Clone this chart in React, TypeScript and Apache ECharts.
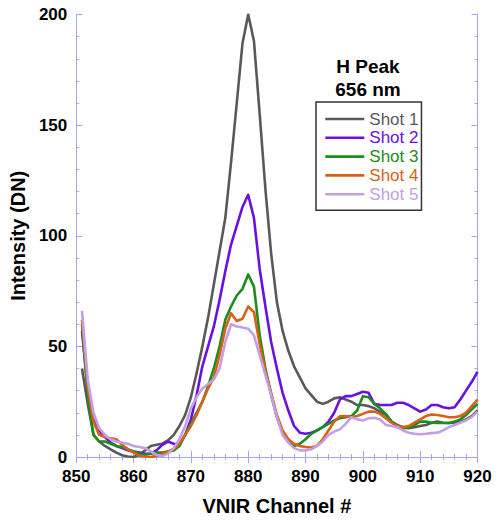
import React, { useEffect, useRef } from "react";
import * as echarts from "echarts";

const channels: number[] = [];
for (let c = 851; c <= 920; c++) channels.push(c);

const seriesNames = ["Shot 1", "Shot 2", "Shot 3", "Shot 4", "Shot 5"];
const seriesColors = ["#595959", "#6a10e0", "#1c8c1c", "#d6621a", "#c49ee6"];

const shot1 = [40, 24, 10, 7, 5, 3.5, 2, 0.8, 0.2, 0, 1, 3, 5, 5.5, 6, 7.5, 10, 14, 19, 27,
  38, 50, 63, 78, 93, 108, 133, 160, 187, 200, 188, 155, 121, 92, 70, 57, 48, 41, 36, 31,
  28, 25, 24, 25, 26.5, 27, 26, 25, 23.5, 23.5, 23, 22, 20.5, 19, 16, 14.5, 13.5, 13, 13.5, 14,
  14.5, 15.5, 16, 15.5, 15.4, 15.5, 16, 17, 18.5, 21];
const shot2 = [57, 30, 17, 12, 9, 6.5, 5, 4, 3, 2.5, 2, 1.5, 1.5, 3, 5.5, 7, 6, 5.5, 10, 17,
  28, 41, 50, 59, 71, 84, 96, 104.5, 113, 118.5, 108, 85, 68, 52, 40, 29, 21, 14, 11, 10.5,
  11, 12, 13.5, 16, 20, 26, 27.5, 27.5, 28.5, 29.5, 29, 24, 23.5, 23.5, 23.5, 24.5, 24.5, 23.5, 22, 20.5,
  21.5, 23.5, 23.5, 22.5, 22, 22.5, 26, 30, 34, 38.5];
const shot3 = [60, 28, 10, 7, 7, 6, 5, 4.5, 3.5, 2.5, 1.5, 1, 1.5, 2, 2, 2.5, 3, 5, 10, 15,
  20, 25, 32, 40, 50, 62, 68, 73, 76, 82.5, 77, 55, 40, 28, 18, 11, 7, 5, 6, 8,
  10.5, 12, 13.5, 15, 16.5, 17.5, 18, 18.5, 21, 27.5, 27, 24, 22, 19.5, 16, 13.5, 13, 13.2, 14.5, 16,
  16, 15.5, 15.4, 15.4, 15.4, 16, 17, 19, 21.5, 24];
const shot4 = [62, 32, 16, 10, 9, 8.5, 8, 5.5, 3.5, 2, 0.6, 0.2, 0, 0.5, 1.3, 2.5, 3.6, 6, 10, 14,
  19, 25, 31, 36, 46, 58, 65, 61.5, 62.5, 68, 65.5, 51, 39, 29, 19, 12, 8, 6, 5, 4.5,
  4.3, 5, 8, 12, 16, 18.4, 18.5, 18, 18.5, 19.5, 20.5, 20.5, 19.5, 17.5, 15.5, 14, 13.5, 14, 15.5, 17,
  18.5, 19.2, 19, 18.5, 18, 18, 18.5, 20, 23, 26];
const shot5 = [66, 35, 20, 13, 10, 8, 7, 6.5, 6, 5, 4.5, 4, 2.5, 1, 0.3, 1.5, 4, 8, 14, 22,
  27, 31, 33, 35, 40, 52, 60, 59, 58.5, 58, 55, 46, 37, 28, 18, 10, 6.5, 4, 3, 3,
  3.5, 5, 7, 10, 11.5, 12.5, 15, 18, 17, 16.5, 17.5, 17.7, 17, 14.5, 14, 13.5, 12, 11, 10.5, 10.3,
  10.5, 10.8, 11, 12, 13.5, 14.5, 15.5, 16.5, 18, 20.5];

const allShots = [shot1, shot2, shot3, shot4, shot5];

const xTicks = { min: 850, max: 920, interval: 10 };
const yTicks = { min: 0, max: 200, interval: 50 };

const FONT = "Liberation Sans, Arial, sans-serif";
const AXIS_COLOR = "#a4a4ff";

export default function App() {
  const ref = useRef<HTMLDivElement>(null);
  useEffect(() => {
    if (!ref.current) return;
    const chart = echarts.init(ref.current, null, { renderer: "svg" });
    const axisCommon = {
      axisLine: { show: true, lineStyle: { color: AXIS_COLOR, width: 1 } },
      axisTick: { show: true, inside: true, length: 6, lineStyle: { color: AXIS_COLOR } },
      minorTick: { show: true, splitNumber: 5, length: 3, lineStyle: { color: AXIS_COLOR } },
      splitLine: { show: false },
    };
    chart.setOption({
      animation: false,
      backgroundColor: "#ffffff",
      grid: { left: 71.5, right: 22.5, top: 14.5, bottom: 58, containLabel: false },
      xAxis: [
        {
          type: "value",
          ...xTicks,
          position: "bottom",
          ...axisCommon,
          axisLabel: { margin: 11, color: "#000", fontSize: 17, fontWeight: "bold", fontFamily: FONT },
          name: "VNIR Channel #",
          nameLocation: "middle",
          nameGap: 39,
          nameTextStyle: { color: "#000", fontSize: 20, fontWeight: "bold", fontFamily: FONT },
        },
        {
          type: "value",
          ...xTicks,
          position: "top",
          ...axisCommon,
          axisLabel: { show: false },
        },
      ],
      yAxis: [
        {
          type: "value",
          ...yTicks,
          position: "left",
          ...axisCommon,
          axisLabel: { margin: 9, color: "#000", fontSize: 17, fontWeight: "bold", fontFamily: FONT },
          name: "Intensity (DN)",
          nameLocation: "middle",
          nameGap: 40,
          nameTextStyle: { color: "#000", fontSize: 20, fontWeight: "bold", fontFamily: FONT },
        },
        {
          type: "value",
          ...yTicks,
          position: "right",
          ...axisCommon,
          axisLabel: { show: false },
        },
      ],
      legend: {
        orient: "vertical",
        left: 316,
        top: 102,
        padding: [8, 3, 7, 8],
        itemWidth: 39,
        itemHeight: 14,
        itemGap: 0.8,
        borderColor: "#333333",
        borderWidth: 1.5,
        borderRadius: 0,
        backgroundColor: "#ffffff",
        itemStyle: { opacity: 0 },
        lineStyle: { width: 2.6 },
        textStyle: { fontSize: 17, fontFamily: FONT, lineHeight: 18 },
        data: seriesNames.map((n, i) => ({ name: n, textStyle: { color: seriesColors[i] } })),
      },
      graphic: [
        {
          type: "text",
          x: 368,
          y: 54.5,
          style: {
            text: "H Peak\n656 nm",
            textAlign: "center",
            fill: "#000",
            font: `bold 19px ${FONT}`,
            lineHeight: 23,
          },
        },
      ],
      series: allShots.map((vals, i) => ({
        name: seriesNames[i],
        type: "line",
        xAxisIndex: 0,
        yAxisIndex: 0,
        symbol: "none",
        smooth: false,
        color: seriesColors[i],
        lineStyle: { width: 2.6, color: seriesColors[i], join: "round" },
        data: channels.map((c, j) => [c, vals[j]]),
      })),
    });
    return () => chart.dispose();
  }, []);
  return <div ref={ref} style={{ width: 500, height: 521, position: "absolute", left: 0, top: 0 }} />;
}
